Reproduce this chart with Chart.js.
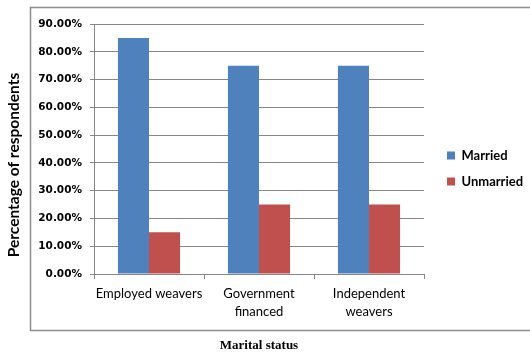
<!DOCTYPE html>
<html>
<head>
<meta charset="utf-8">
<style>
  html, body { margin: 0; padding: 0; background: #fff; }
  #wrap { width: 530px; height: 354px; }
</style>
<script src="https://cdn.jsdelivr.net/npm/chart.js@4.4.1/dist/chart.umd.min.js"></script>
</head>
<body>
<div id="wrap"><canvas id="c" width="530" height="354"></canvas></div>
<script>
const categories = [["Employed weavers"], ["Government", "financed"], ["Independent", "weavers"]];
const seriesNames = ["Married", "Unmarried"];
const married = [85, 75, 75];
const unmarried = [15, 25, 25];
const seriesColors = ["#4F81BD", "#C0504D"];
const yTitle = "Percentage of respondents";
const xTitle = "Marital status";

const frame = {
  id: 'frame',
  beforeDraw(chart) {
    const ctx = chart.ctx;
    ctx.save();
    ctx.fillStyle = '#fff';
    ctx.fillRect(0, 0, chart.width, chart.height);
    ctx.strokeStyle = '#8c8c8c';
    ctx.lineWidth = 1.5;
    ctx.strokeRect(30.5, 7.5, 520, 323);
    ctx.restore();
  },
  afterLayout(chart) {
    const lg = chart.legend;
    if (lg) {
      lg.left = 434; lg.right = 530;
      lg.top = 7; lg.bottom = 330;
      lg.width = lg.right - lg.left;
      lg.height = lg.bottom - lg.top;
    }
    const ys = chart.scales.y;
    if (ys && !ys._titlePatched) {
      const orig = ys.drawTitle;
      ys.drawTitle = function () {
        const t = this.top, b = this.bottom;
        this.top = t + 16; this.bottom = b + 16;
        orig.apply(this, arguments);
        this.top = t; this.bottom = b;
      };
      ys._titlePatched = true;
    }
  }
};

new Chart(document.getElementById('c'), {
  type: 'bar',
  data: {
    labels: categories,
    datasets: [
      { label: seriesNames[0], data: married, backgroundColor: seriesColors[0], categoryPercentage: 0.565, barPercentage: 1.0 },
      { label: seriesNames[1], data: unmarried, backgroundColor: seriesColors[1], categoryPercentage: 0.565, barPercentage: 1.0 }
    ]
  },
  options: {
    responsive: false,
    animation: false,
    devicePixelRatio: 1,
    layout: { padding: { left: 0, top: 24, right: 106, bottom: 0 } },
    plugins: {
      tooltip: { enabled: false },
      legend: {
        position: 'chartArea',
        align: 'center',
        labels: {
          boxWidth: 8, boxHeight: 8, padding: 13,
          color: '#000',
          font: { family: 'Lato', size: 13, weight: 'bold' }
        }
      }
    },
    scales: {
      x: {
        afterFit(s) { s.height = 80; },
        grid: { display: true, offset: true, drawOnChartArea: false, tickLength: 5, color: '#868686' },
        border: { display: true, color: '#868686' },
        ticks: {
          color: '#000', padding: 6,
          font: { family: 'Lato', size: 13, lineHeight: 1.35 },
          maxRotation: 0, autoSkip: false
        },
        title: {
          display: true, text: xTitle, color: '#000',
          font: { family: 'Liberation Serif', size: 13, weight: 'bold' },
          padding: { top: 0, bottom: 1 }
        }
      },
      y: {
        min: 0, max: 90,
        afterFit(s) { s.width = 94; },
        grid: { color: '#868686', tickLength: 4 },
        border: { display: true, color: '#868686' },
        ticks: {
          stepSize: 10, color: '#000', padding: 8,
          font: { family: 'DejaVu Sans', size: 10.5, weight: 'bold' },
          callback: v => v.toFixed(2) + '%'
        },
        title: {
          display: true, text: yTitle, color: '#000',
          font: { family: 'Lato', size: 15.5, weight: 'bold' },
          padding: { top: 5, bottom: 0 }
        }
      }
    }
  },
  plugins: [frame]
});
</script>
</body>
</html>
